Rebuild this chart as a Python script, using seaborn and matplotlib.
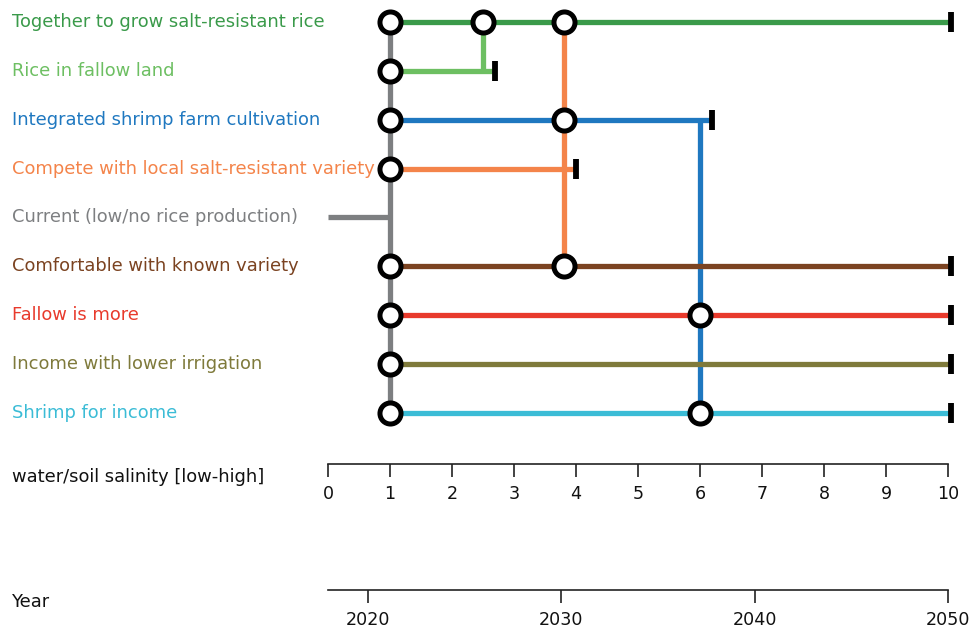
import matplotlib
matplotlib.use("Agg")
import matplotlib.pyplot as plt
import seaborn as sns
import pandas as pd

sns.set_theme(style="white")
plt.rcParams['font.family'] = ['DejaVu Sans']

# ---- data ----
options = [
    "Together to grow salt-resistant rice",
    "Rice in fallow land",
    "Integrated shrimp farm cultivation",
    "Compete with local salt-resistant variety",
    "Current (low/no rice production)",
    "Comfortable with known variety",
    "Fallow is more",
    "Income with lower irrigation",
    "Shrimp for income",
]
colors = ["#3a9a4a", "#6dbf62", "#1f78c0", "#f4844a", "#7d7f81",
          "#7b4321", "#e83a2c", "#7f7a3b", "#3bbcd6"]
start = [1, 1, 1, 1, 0, 1, 1, 1, 1]
end = [10.05, 2.7, 6.2, 4.0, 1, 10.05, 10.05, 10.05, 10.05]
has_end_tick = [True, True, True, True, False, True, True, True, True]
# transfer nodes (salinity value, row)
node_x = [1, 2.5, 3.8, 1, 1, 3.8, 1, 1, 3.8, 1, 6, 1, 1, 6]
node_row = [0, 0, 0, 1, 2, 2, 3, 5, 5, 6, 6, 7, 8, 8]
# vertical transfers: x, from row, to row, colour index
trans_x = [1, 2.5, 3.8, 6]
trans_from = [0, 0, 0, 2]
trans_to = [8, 1, 5, 8]
trans_col = [4, 1, 3, 2]
salinity_ticks = list(range(0, 11))
year_ticks = [2020, 2030, 2040, 2050]

W, H = 971, 628
fig = plt.figure(figsize=(W / 100, H / 100), dpi=100)

# main pathways axes
ax = fig.add_axes([328 / W, 1 - 430 / H, 620 / W, 420 / H])

lw = 3.8
# vertical transfer lines (behind)
for x, r0, r1, ci in zip(trans_x, trans_from, trans_to, trans_col):
    ax.plot([x, x], [r0, r1], color=colors[ci], lw=lw, solid_capstyle="butt",
            zorder=1, clip_on=False)
# horizontal pathway lines
for i, (s, e) in enumerate(zip(start, end)):
    ax.plot([s, e], [i, i], color=colors[i], lw=lw, solid_capstyle="butt",
            zorder=2, clip_on=False)
    if has_end_tick[i]:
        ax.plot([e], [i], marker="|", color="black", markersize=14,
                mew=4.2, zorder=4, clip_on=False)
    ax.text(-5.1, i, options[i], color=colors[i], fontsize=12.9,
            ha="left", va="center", clip_on=False)

nodes = pd.DataFrame({"x": node_x, "row": node_row})
sns.scatterplot(data=nodes, x="x", y="row", ax=ax, s=230, color="white",
                edgecolor="black", linewidth=3.6, zorder=5, clip_on=False,
                legend=False)
ax.set_xlim(0, 10)
ax.set_ylim(8.348, -0.2455)
ax.axis("off")


def style_axis(a):
    for sp in ["top", "left", "right"]:
        a.spines[sp].set_visible(False)
    a.spines["bottom"].set_color("#222222")
    a.spines["bottom"].set_linewidth(1.2)
    a.set_yticks([])
    a.set_facecolor("none")
    a.tick_params(axis="x", direction="out", length=9, width=1.2,
                  color="#222222", labelsize=12.6, pad=6, labelcolor="#111111",
                  bottom=True)


# salinity axis
ax_s = fig.add_axes([328 / W, 1 - 464 / H, 620 / W, 0.001])
ax_s.set_xlim(0, 10)
ax_s.set_xticks(salinity_ticks)
ax_s.set_xticklabels([str(t) for t in salinity_ticks])
style_axis(ax_s)

# year axis
ax_y = fig.add_axes([328 / W, 1 - 590 / H, 620 / W, 0.001])
ax_y.set_xlim(2017.93, 2050)
ax_y.set_xticks(year_ticks)
ax_y.set_xticklabels([str(t) for t in year_ticks])
style_axis(ax_y)

fig.text(12 / W, 1 - 477 / H, "water/soil salinity [low-high]", fontsize=12.9,
         color="#111111", ha="left", va="center")
fig.text(12 / W, 1 - 602 / H, "Year", fontsize=12.9, color="#111111",
         ha="left", va="center")

fig.savefig("out.png", dpi=100, facecolor="white")
